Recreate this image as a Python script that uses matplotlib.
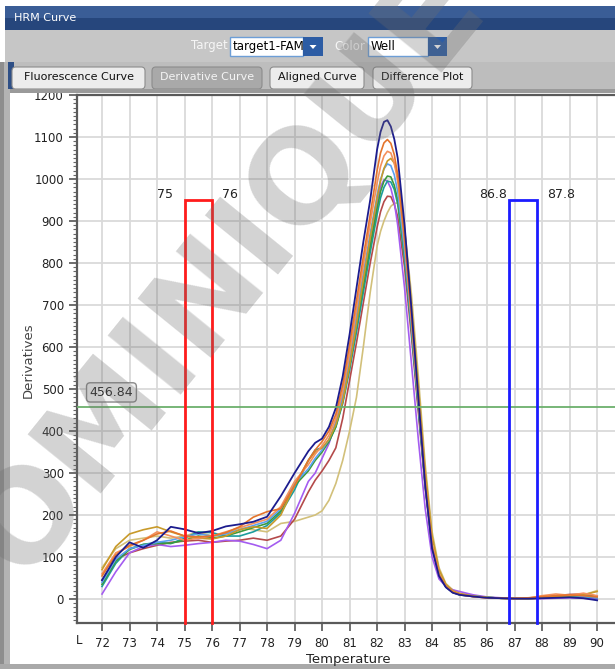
import matplotlib
matplotlib.use("Agg")
import matplotlib.pyplot as plt
from matplotlib.patches import Rectangle, FancyBboxPatch, Polygon
from matplotlib.ticker import MultipleLocator

W, H = 615, 669

# temperature grid (deg C)
temps = [72, 72.5, 73, 73.5, 74, 74.5, 75, 75.5, 76, 76.5, 77, 77.5, 78, 78.5, 79,
         79.5, 79.75, 80, 80.25, 80.5, 80.75, 81, 81.25, 81.5, 81.75, 82, 82.125,
         82.25, 82.375, 82.5, 82.625, 82.75, 83, 83.25, 83.5, 83.75, 84, 84.25,
         84.5, 84.75, 85, 85.5, 86, 86.5, 87, 87.5, 88, 88.5, 89, 89.5, 90]

# derivative values per well
navy = [45, 100, 135, 122, 140, 172, 166, 157, 162, 173, 178, 184, 196, 245, 300,
        352, 372, 382, 410, 455, 530, 630, 740, 850, 950, 1070, 1112,
        1136, 1140, 1125, 1095, 1050, 890, 690, 480, 270, 120, 55,
        28, 15, 10, 6, 3, 2, 1, 1, 2, 3, 4, 2, -3]
orange = [55, 105, 128, 140, 155, 162, 150, 148, 150, 158, 172, 195, 208, 215, 270,
          330, 355, 375, 400, 440, 510, 605, 710, 815, 915, 1020, 1062,
          1086, 1094, 1085, 1058, 1010, 860, 670, 475, 275, 125, 58,
          30, 17, 11, 6, 3, 2, 2, 3, 6, 8, 10, 8, 5]
salmon = [60, 110, 125, 140, 160, 150, 140, 145, 150, 160, 170, 180, 190, 220, 280,
          320, 345, 365, 390, 430, 495, 585, 690, 795, 895, 990, 1030,
          1055, 1066, 1062, 1038, 995, 850, 665, 475, 280, 130, 60,
          30, 17, 11, 6, 3, 2, 1, 2, 8, 12, 9, 14, 8]
gold = [70, 125, 155, 165, 172, 160, 150, 145, 143, 150, 165, 172, 168, 200, 270,
        330, 350, 360, 380, 415, 470, 555, 655, 760, 860, 955, 995,
        1025, 1043, 1049, 1038, 1010, 880, 700, 505, 305, 150, 70,
        35, 20, 13, 7, 4, 2, 1, 1, 3, 6, 8, 10, 18]
light_blue = [40, 95, 120, 128, 135, 140, 148, 155, 150, 155, 165, 175, 185, 215, 275,
              310, 335, 355, 380, 420, 485, 575, 675, 775, 870, 960, 998,
              1024, 1036, 1032, 1010, 970, 830, 650, 465, 275, 128, 60,
              30, 17, 11, 7, 4, 2, 1, 1, 4, 7, 9, 7, 4]
green = [35, 90, 118, 130, 132, 133, 140, 150, 145, 150, 160, 170, 180, 210, 270,
         305, 330, 350, 375, 410, 470, 555, 650, 745, 840, 930, 970,
         995, 1007, 1005, 985, 950, 820, 645, 460, 272, 127, 60,
         30, 17, 11, 7, 4, 2, 1, 1, 3, 5, 7, 8, 6]
teal = [30, 85, 120, 130, 135, 132, 145, 160, 158, 150, 150, 160, 175, 205, 260,
        330, 355, 360, 375, 410, 465, 545, 635, 730, 825, 915, 955,
        980, 995, 993, 975, 940, 810, 640, 455, 270, 125, 58,
        29, 16, 10, 6, 4, 2, 2, 2, 4, 6, 8, 6, 3]
purple = [12, 65, 110, 125, 130, 125, 128, 132, 135, 140, 138, 130, 120, 140, 204,
          280, 300, 335, 370, 420, 485, 570, 665, 760, 850, 945, 982,
          998, 995, 978, 945, 890, 740, 560, 380, 215, 100, 48,
          30, 22, 18, 10, 5, 3, 2, 1, 1, 2, 3, 2, 0]
dark_red = [45, 95, 110, 120, 128, 135, 138, 140, 135, 138, 140, 145, 140, 150, 190,
            255, 283, 305, 330, 360, 430, 520, 610, 705, 800, 885, 922,
            946, 959, 958, 940, 910, 790, 625, 445, 265, 123, 58,
            29, 16, 10, 6, 3, 2, 1, 1, 3, 8, 11, 12, 7]
khaki = [75, 120, 140, 145, 150, 145, 150, 160, 150, 155, 170, 165, 160, 180, 185,
         195, 200, 210, 235, 275, 330, 400, 480, 600, 730, 840, 875,
         900, 920, 935, 942, 943, 880, 725, 530, 320, 160, 75,
         37, 22, 14, 8, 4, 2, 1, 1, 2, 4, 6, 10, 20]

wells = [("khaki", khaki, "#d2c07a"), ("dark red", dark_red, "#b44a4a"),
         ("purple", purple, "#a45cf0"), ("teal", teal, "#1c9c9c"),
         ("green", green, "#3c9a3c"), ("light blue", light_blue, "#5aa0f0"),
         ("gold", gold, "#c89a2a"), ("salmon", salmon, "#f4905c"),
         ("orange", orange, "#e4742c"), ("navy", navy, "#1c1c8e")]

red_region = (75, 76)
blue_region = (86.8, 87.8)
region_top = 950
threshold = 456.84
x_ticks = list(range(72, 91))
y_ticks = list(range(0, 1201, 100))


def fx(x):
    return x / W


def fy(y):
    return 1 - y / H


def rect(fig, x0, y0, x1, y1, fc, ec="none", lw=0, z=1):
    fig.patches.append(Rectangle((fx(x0), fy(y1)), fx(x1) - fx(x0), fy(y0) - fy(y1),
                                 transform=fig.transFigure, facecolor=fc,
                                 edgecolor=ec, linewidth=lw, zorder=z))


fig = plt.figure(figsize=(W / 100, H / 100), dpi=100, facecolor="white")

# ---- plot ----
ax = fig.add_axes([fx(77), fy(623), fx(615) - fx(77), fy(95) - fy(623)])
for name, vals, col in wells:
    ax.plot(temps, vals, color=col, lw=1.2 if name != "navy" else 1.3, zorder=3)

ax.axhline(threshold, color="#6cb06c", lw=1.3, zorder=4)
ax.text(71.55, 492, f"{threshold:.2f}", fontsize=9, color="#222", va="center",
        ha="left", zorder=6,
        bbox=dict(boxstyle="round,pad=0.25,rounding_size=0.3", fc="#f2f2f2",
                  ec="#8a8a8a", lw=1))

ymin = -57
for (a, b), col in [(red_region, "#ff1c1c"), (blue_region, "#1c1cff")]:
    ax.plot([a, a, b, b], [ymin, region_top, region_top, ymin], color=col,
            lw=2, zorder=5, clip_on=False, solid_joinstyle="miter")
ax.text(red_region[0] - 0.42, 964, f"{red_region[0]}", ha="right", va="center", fontsize=9, color="#222")
ax.text(red_region[1] + 0.36, 964, f"{red_region[1]}", ha="left", va="center", fontsize=9, color="#222")
ax.text(blue_region[0] - 0.07, 964, f"{blue_region[0]}", ha="right", va="center", fontsize=9, color="#222")
ax.text(blue_region[1] + 0.38, 964, f"{blue_region[1]}", ha="left", va="center", fontsize=9, color="#222")

ax.set_xlim(71.09, 90.65)
ax.set_ylim(ymin, 1197)
ax.set_xticks(x_ticks)
ax.set_yticks(y_ticks)
ax.yaxis.set_minor_locator(MultipleLocator(10))
ax.grid(True, color="#dadada", lw=1.3, zorder=0)
ax.set_axisbelow(True)
ax.tick_params(axis="both", which="major", length=6, width=1.2, color="#555",
               labelsize=8.5, labelcolor="#222", direction="out")
ax.tick_params(axis="y", which="minor", length=3, width=0.8, color="#666")
ax.tick_params(axis="x", pad=4)
for s in ["left", "bottom", "top"]:
    ax.spines[s].set_color("#5a5a5a")
    ax.spines[s].set_linewidth(1.6)
ax.spines["right"].set_visible(False)
fig.text(fx(79), fy(641), "L", fontsize=8.5, color="#222", ha="center", va="center")

fig.text(fx(28), fy(360), "Derivatives", rotation=90, fontsize=9.5, color="#444",
         ha="center", va="center")
fig.text(fx(348), fy(659), "Temperature", fontsize=9.5, color="#222",
         ha="center", va="center")

# ---- window chrome ----
rect(fig, 5, 6, 615, 18, "#3a5d96", z=2)
rect(fig, 5, 18, 615, 30, "#26467c", z=2)
fig.text(fx(14), fy(18), "HRM Curve", fontsize=8, color="white", va="center", zorder=3)
rect(fig, 5, 30, 615, 62, "#c6c6c6", z=2)
rect(fig, 5, 62, 615, 93, "#bdbdbd", z=2)
rect(fig, 0, 62, 4, 669, "#8e8e8e", z=2)
rect(fig, 4, 62, 10, 669, "#b4b4b4", z=2)
rect(fig, 8, 62, 14, 89, "#2e4f86", z=2)
rect(fig, 0, 664, 615, 669, "#a9a9a9", z=2)

fig.text(fx(228), fy(46), "Target", fontsize=8.5, color="#f6f6f6", ha="right",
         va="center", zorder=3)
rect(fig, 230, 37, 303, 56, "white", ec="#6d9ed6", lw=1, z=3)
fig.text(fx(233), fy(46.5), "target1-FAM", fontsize=8.5, color="black", va="center", zorder=4)
rect(fig, 303, 37, 323, 56, "#2c5ca4", z=3)
fig.text(fx(365), fy(46), "Color", fontsize=8.5, color="#f6f6f6", ha="right",
         va="center", zorder=3)
rect(fig, 368, 37, 428, 56, "white", ec="#6d9ed6", lw=1, z=3)
fig.text(fx(371), fy(46.5), "Well", fontsize=8.5, color="black", va="center", zorder=4)
rect(fig, 428, 37, 447, 56, "#2c5ca4", z=3)
for bx in (313, 437.5):
    fig.patches.append(Polygon([(fx(bx - 3.5), fy(45)), (fx(bx + 3.5), fy(45)), (fx(bx), fy(49))],
                               closed=True, transform=fig.transFigure, fc="white",
                               ec="none", zorder=4))

tabs = [("Fluorescence Curve", 12, 145, False), ("Derivative Curve", 152, 262, True),
        ("Aligned Curve", 270, 364, False), ("Difference Plot", 373, 472, False)]
for label, x0, x1, active in tabs:
    fc = "#a9a9a9" if active else "#ececec"
    fig.patches.append(FancyBboxPatch((fx(x0), fy(89)), fx(x1) - fx(x0), fy(67) - fy(89),
                                      boxstyle="round,pad=0,rounding_size=0.006",
                                      transform=fig.transFigure, fc=fc, ec="#8c8c8c",
                                      lw=0.8, zorder=3))
    fig.text(fx((x0 + x1) / 2), fy(77.5), label, fontsize=8,
             color="#f4f4f4" if active else "#111", ha="center", va="center", zorder=4)
rect(fig, 10, 89, 615, 93, "#9a9a9a", z=3)

# watermark
fig.text(fx(228), fy(272), "OMINIQUE", rotation=51, fontsize=92, fontweight="bold",
         color="#6e6e6e", alpha=0.3, ha="center", va="center", zorder=10)

fig.savefig("out.png", dpi=100, facecolor="white")
